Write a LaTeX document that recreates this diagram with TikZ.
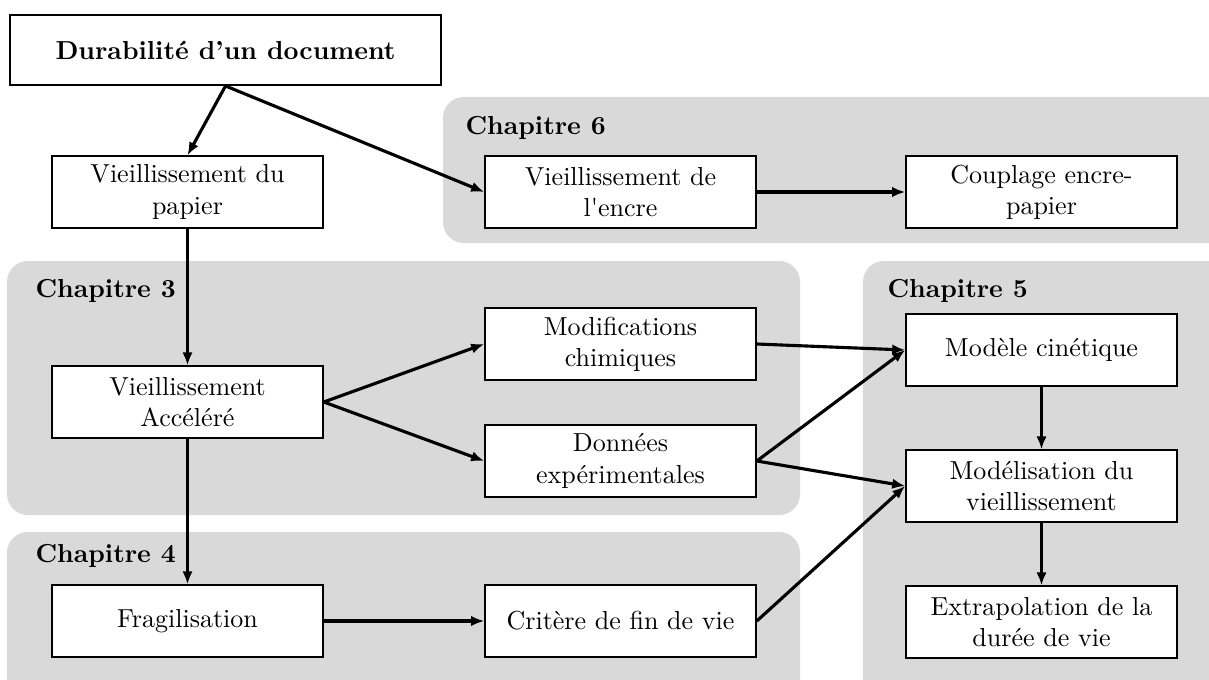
\documentclass[tikz,border=0pt]{standalone}
\usepackage{tikz}
\usetikzlibrary{arrows.meta}

\tikzset{
  chap/.style={fill=black!15, draw=none, rounded corners=8pt},
  chaplabel/.style={anchor=west, font=\bfseries, inner sep=0pt},
  box/.style={draw=black, line width=0.6pt, fill=white, align=center,
    minimum width=3.66cm, minimum height=0.97cm, inner sep=1pt},
  link/.style={-{Latex[length=5pt, width=4pt]}, line width=1.2pt}
}

\begin{document}
\begin{tikzpicture}[x=0.0135cm, y=0.0135cm]
    \useasboundingbox (0, 0) rectangle (1209, 679);
    \clip (0, 0) rectangle (1209, 679);

    % draw chapter backgrounds
    \fill[chap] (443, 582) rectangle (1250, 436);
    \fill[chap] (7, 418) rectangle (800, 164);
    \fill[chap] (7, 147) rectangle (800, -40);
    \fill[chap] (863, 418) rectangle (1250, -40);

    \node[chaplabel] (lab6) at (465, 551) {Chapitre 6};
    \node[chaplabel] (lab3) at (35, 388) {Chapitre 3};
    \node[chaplabel] (lab4) at (35, 123) {Chapitre 4};
    \node[chaplabel] (lab5) at (887, 388) {Chapitre 5};

    % draw boxes
    \node[box, minimum width=5.82cm, minimum height=0.95cm, font=\bfseries] (dur) at (225.5, 629) {Durabilit\'e d'un document};

    \node[box] (papier) at (187.5, 487) {Vieillissement du\\papier};
    \node[box] (encre) at (620.5, 487) {Vieillissement de\\l\textquotesingle encre};
    \node[box] (couplage) at (1041.5, 487) {Couplage encre-\\papier};

    \node[box] (accel) at (187.5, 277) {Vieillissement\\Acc\'el\'er\'e};
    \node[box] (modif) at (620.5, 335) {Modifications\\chimiques};
    \node[box] (donnees) at (620.5, 218) {Donn\'ees\\exp\'erimentales};

    \node[box] (cinet) at (1041.5, 329) {Mod\`ele cin\'etique};
    \node[box] (modelis) at (1041.5, 193) {Mod\'elisation du\\vieillissement};
    \node[box] (extrap) at (1041.5, 57) {Extrapolation de la\\dur\'ee de vie};

    \node[box] (frag) at (187.5, 58) {Fragilisation};
    \node[box] (critere) at (620.5, 58) {Crit\`ere de fin de vie};

    % draw arrows
    \draw[link] (dur.south) -- (papier.north);
    \draw[link] (dur.south) -- (encre.west);
    \draw[link] (encre.east) -- (couplage.west);

    \draw[link] (papier.south) -- (accel.north);
    \draw[link] (accel.south) -- (frag.north);
    \draw[link] (accel.east) -- (modif.west);
    \draw[link] (accel.east) -- (donnees.west);

    \draw[link] (modif.east) -- (cinet.west);
    \draw[link] (donnees.east) -- (cinet.west);
    \draw[link] (donnees.east) -- (modelis.west);
    \draw[link] (frag.east) -- (critere.west);
    \draw[link] (critere.east) -- (modelis.west);

    \draw[link] (cinet.south) -- (modelis.north);
    \draw[link] (modelis.south) -- (extrap.north);
\end{tikzpicture}
\end{document}
